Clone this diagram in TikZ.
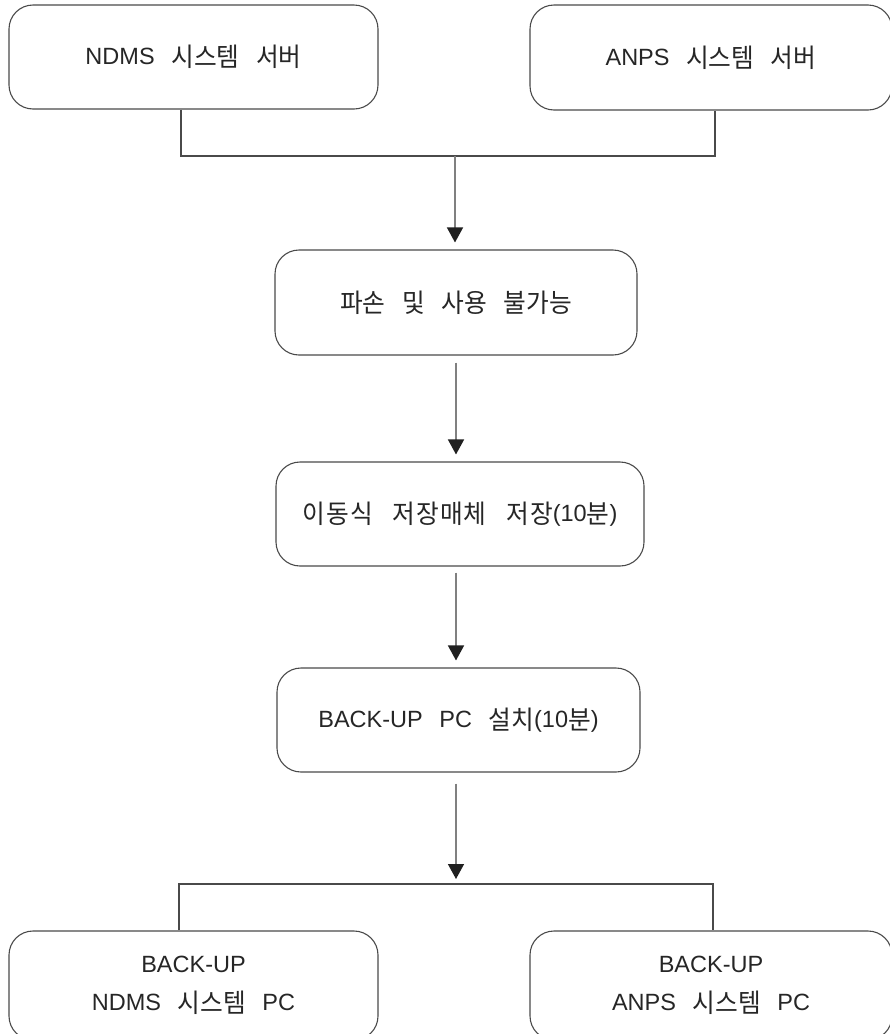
\documentclass[tikz,border=0pt]{standalone}
\usepackage{fontspec}
\newfontfamily\kr{Noto Sans CJK KR}[FakeStretch=0.95, WordSpace={3,0,0}]
\newfontfamily\lt{Liberation Sans}
\newcommand\la[1]{\raisebox{2pt}{\fontsize{23.5}{38}\lt #1}}
\usetikzlibrary{arrows.meta}
\definecolor{boxc}{HTML}{4A4A4A}
\definecolor{arrc}{HTML}{808080}
\definecolor{headc}{HTML}{202020}
\definecolor{txt}{HTML}{262626}
\begin{document}
\begin{tikzpicture}[x=1pt,y=-1pt,
  box/.style={draw=boxc, line width=1.1pt, rounded corners=24pt, inner sep=0pt,
    text=txt, font=\fontsize{26}{38}\kr, align=center},
  link/.style={draw=boxc, line width=1.1pt},
  arr/.style={draw=arrc, line width=1.5pt, -{Triangle[width=16pt,length=15pt,color=headc]}}]
\useasboundingbox[fill=white] (0,0) rectangle (890,1034);
\node[box, minimum width=369pt, minimum height=104pt] (n1) at (193.5,57) {\la{NDMS} 시스템 서버};
\node[box, minimum width=362pt, minimum height=105pt] (n2) at (711,57.5) {\la{ANPS} 시스템 서버};
\node[box, minimum width=362pt, minimum height=105pt] (p) at (456,302.5) {파손 및 사용 불가능};
\node[box, minimum width=368pt, minimum height=104pt] (m) at (460,514) {\addfontfeature{LetterSpace=4}이동식 저장매체 저장\la{(10}분\la{)}};
\node[box, minimum width=363pt, minimum height=104pt] (b) at (458.5,720) {\la{BACK-UP} \la{PC} 설치\la{(10}분\la{)}};
\node[box, minimum width=369pt, minimum height=109pt] (bl) at (193.5,985.5) {\la{BACK-UP}\\\la{NDMS} 시스템 \la{PC}};
\node[box, minimum width=362pt, minimum height=109pt] (br) at (711,985.5) {\la{BACK-UP}\\\la{ANPS} 시스템 \la{PC}};
\coordinate (ax) at (456,0);
\coordinate (j1) at (455,156);
\coordinate (j2) at (456,884);
\draw[link] ([xshift=-12.5pt]n1.south) |- (j1) -| ([xshift=4pt]n2.south);
\draw[arr, shorten >=7pt] (j1) -- (j1 |- p.north);
\draw[arr, shorten <=7pt, shorten >=7pt] (p.south -| ax) -- (m.north -| ax);
\draw[arr, shorten <=6pt, shorten >=7pt] (m.south -| ax) -- (b.north -| ax);
\draw[arr, shorten <=11pt, shorten >=5pt] (b.south -| ax) -- (j2);
\draw[link] ([xshift=-14.5pt]bl.north) |- (j2) -| ([xshift=2pt]br.north);
\end{tikzpicture}
\end{document}
